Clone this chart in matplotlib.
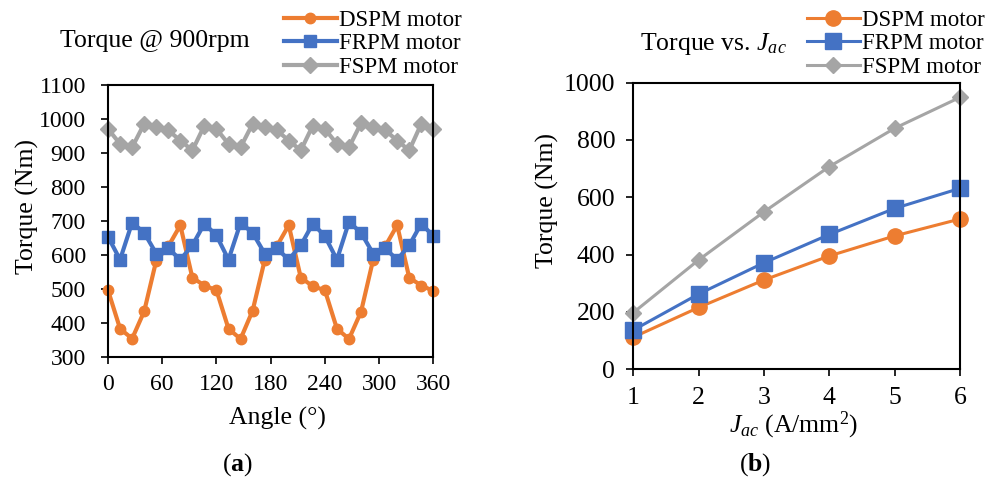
import matplotlib
matplotlib.use("Agg")
import matplotlib.pyplot as plt
import numpy as np

plt.rcParams['font.family'] = ['Liberation Serif', 'DejaVu Serif']
plt.rcParams['mathtext.fontset'] = 'custom'
plt.rcParams['mathtext.rm'] = 'Liberation Serif'
plt.rcParams['mathtext.it'] = 'Liberation Serif:italic'
plt.rcParams['mathtext.bf'] = 'Liberation Serif:bold'

# ---- Data (a): torque vs rotor angle at 900 rpm ----
angle = [0, 13.33, 26.67, 40, 53.33, 66.67, 80, 93.33, 106.67, 120,
         133.33, 146.67, 160, 173.33, 186.67, 200, 213.33, 226.67, 240,
         253.33, 266.67, 280, 293.33, 306.67, 320, 333.33, 346.67, 360]
dspm_a = [496, 383, 354, 434, 583, 625, 687, 533, 510, 496,
          383, 353, 436, 584, 625, 687, 533, 508, 496,
          383, 353, 433, 585, 625, 687, 533, 510, 494]
frpm_a = [653, 586, 695, 665, 604, 619, 586, 628, 692, 657,
          586, 694, 665, 604, 619, 586, 628, 692, 655,
          586, 697, 665, 604, 619, 586, 628, 692, 655]
fspm_a = [970, 926, 916, 985, 975, 966, 936, 907, 980, 970,
          926, 916, 985, 975, 966, 936, 907, 980, 970,
          926, 916, 987, 977, 966, 936, 907, 985, 970]
xticks_a = [0, 60, 120, 180, 240, 300, 360]
yticks_a = [300, 400, 500, 600, 700, 800, 900, 1000, 1100]

# ---- Data (b): torque vs current density ----
jac = [1, 2, 3, 4, 5, 6]
dspm_b = [111, 215, 311, 395, 465, 524]
frpm_b = [136, 262, 371, 470, 561, 631]
fspm_b = [197, 381, 549, 707, 841, 949]
yticks_b = [0, 200, 400, 600, 800, 1000]

labels = ["DSPM motor", "FRPM motor", "FSPM motor"]
c_or, c_bl, c_gr = "#ED7D31", "#4472C4", "#A5A5A5"

fs_lab = 18.5
fs_leg = 16.5
W, H = 1004, 479
fig = plt.figure(figsize=(W / 100, H / 100), dpi=100)

def px(x, y):
    return x / W, 1 - y / H

def style(ax, ypad, xpad, fs_tick):
    for s in ax.spines.values():
        s.set_linewidth(1.5)
        s.set_color("black")
    ax.tick_params(direction="out", length=5, width=1.2, labelsize=fs_tick, colors="black")
    ax.tick_params(axis="y", pad=ypad)
    ax.tick_params(axis="x", pad=xpad)

# ---- (a) ----
ax1 = fig.add_axes([0.1076, 0.2547, 0.324, 0.5685])
la = ax1.plot(angle, dspm_a, color=c_or, lw=3, marker="o", ms=7.5, label=labels[0], clip_on=False)
lb = ax1.plot(angle, frpm_a, color=c_bl, lw=3, marker="s", ms=8, label=labels[1], clip_on=False)
lc = ax1.plot(angle, fspm_a, color=c_gr, lw=3, marker="D", ms=8.5, label=labels[2], clip_on=False)
ax1.set_xlim(0, 360)
ax1.set_ylim(300, 1100)
ax1.set_xticks(xticks_a)
ax1.set_yticks(yticks_a)
style(ax1, 11, 7, 17)
fig.text(*px(277, 418), "Angle (°)", fontsize=fs_lab, ha="center", va="center")
fig.text(*px(27, 206), "Torque (Nm)", fontsize=fs_lab, ha="center", va="center", rotation=90)
fig.text(*px(60, 47), "Torque @ 900rpm", fontsize=fs_lab, ha="left", va="baseline")
fig.legend(handles=[la[0], lb[0], lc[0]], loc="upper left", bbox_to_anchor=px(284, 10),
           frameon=False, fontsize=fs_leg, handlelength=2.3, handletextpad=0.1,
           labelspacing=0.1, borderpad=0.0, borderaxespad=0)
fig.text(*px(237, 465), r"($\mathbf{a}$)", fontsize=fs_lab, ha="center", va="center")

# ---- (b) ----
ax2 = fig.add_axes([0.6308, 0.2296, 0.3254, 0.5977])
ra = ax2.plot(jac, dspm_b, color=c_or, lw=2.2, marker="o", ms=11, label=labels[0], clip_on=False)
rb = ax2.plot(jac, frpm_b, color=c_bl, lw=2.2, marker="s", ms=11, label=labels[1], clip_on=False)
rc = ax2.plot(jac, fspm_b, color=c_gr, lw=2.2, marker="D", ms=8, label=labels[2], clip_on=False)
ax2.set_xlim(1, 6)
ax2.set_ylim(0, 1000)
ax2.set_xticks(jac)
ax2.set_yticks(yticks_b)
style(ax2, 8, 8, 18.5)
fig.text(*px(794, 425), r"$J_{ac}$ (A/mm$^2$)", fontsize=fs_lab, ha="center", va="center")
fig.text(*px(547, 201), "Torque (Nm)", fontsize=fs_lab, ha="center", va="center", rotation=90)
fig.text(*px(640, 50), r"Torque vs. $J_{ac}$", fontsize=fs_lab, ha="left", va="baseline")
fig.legend(handles=[ra[0], rb[0], rc[0]], loc="upper left", bbox_to_anchor=px(807, 10),
           frameon=False, fontsize=fs_leg, handlelength=2.3, handletextpad=0.1,
           labelspacing=0.1, borderpad=0.0, borderaxespad=0)
fig.text(*px(755, 465), r"($\mathbf{b}$)", fontsize=fs_lab, ha="center", va="center")

fig.savefig("out.png", dpi=100)
